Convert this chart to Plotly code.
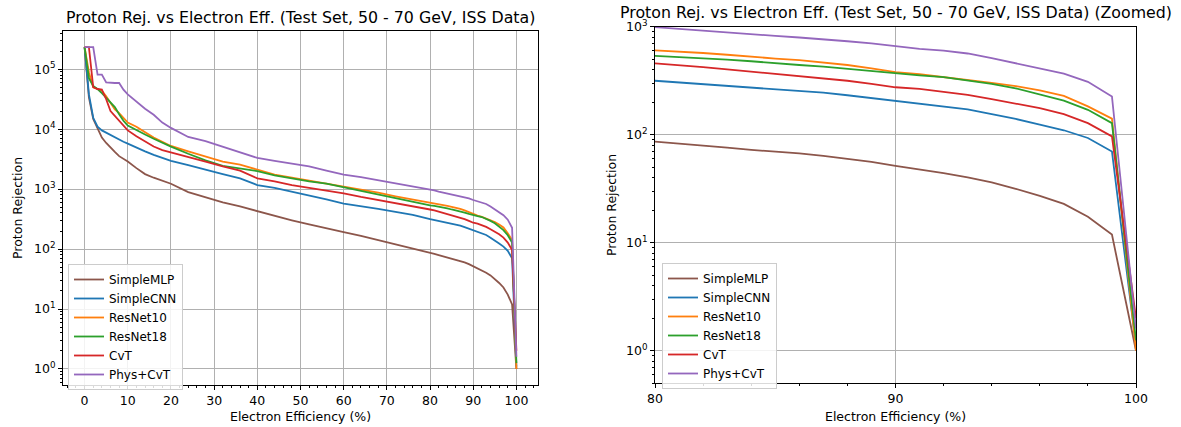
import math
import plotly.graph_objects as go

# ---------------- data ----------------
efficiency = [0, 1, 2, 3, 4, 5, 6, 7, 8, 9, 10,
              12, 14, 16, 18, 20,
              24, 28, 32, 36, 40, 44, 48, 52, 56, 60, 64, 68, 72, 76,
              80, 81, 82, 83, 84, 85, 86, 87, 88, 89, 90,
              91, 92, 93, 94, 95, 96, 97, 98, 99, 100]

simple_mlp = [234000, 33900, 14800, 10500, 7240, 5890, 4900, 4170, 3550, 3240, 2880,
              2240, 1780, 1550, 1380, 1230,
              891, 724, 603, 513, 427, 363, 302, 257, 219, 191, 166, 141, 123, 102,
              86.7, 83.2, 79.4, 75.9, 72.4, 70.0, 67.2, 63.8, 60.0, 56.0, 51.6,
              47.9, 44.2, 40.3, 36.3, 31.6, 27.2, 22.9, 17.4, 11.9, 1.0]

simple_cnn = [234000, 38000, 15500, 11000, 9550, 8710, 7940, 7240, 6760, 6170, 5750,
              4900, 4270, 3720, 3310, 2950,
              2510, 2140, 1780, 1510, 1170, 1050, 912, 794, 676, 575, 525, 468, 417, 372,
              316, 305, 295, 285, 275, 266, 257, 245, 232, 219, 207,
              195, 184, 172, 155, 140, 124, 110, 93.3, 70.0, 1.1]

resnet10 = [234000, 89100, 50100, 46800, 43700, 35500, 27500, 21400, 18600, 15800, 12900,
            11000, 8910, 7240, 6170, 5250,
            4270, 3470, 2880, 2570, 2090, 1740, 1550, 1380, 1260, 1120, 1000, 871, 759, 676,
            603, 589, 571, 550, 525, 507, 490, 468, 442, 412, 380,
            363, 343, 324, 302, 282, 257, 229, 183, 141, 1.0]

resnet18 = [234000, 70800, 52500, 46800, 39800, 33100, 28200, 23400, 17800, 13800, 11500,
            9550, 8130, 6920, 5890, 5130,
            3890, 3020, 2450, 2240, 2000, 1700, 1510, 1350, 1230, 1070, 933, 794, 692, 603,
            537, 525, 513, 495, 479, 457, 442, 427, 407, 387, 367,
            355, 342, 320, 295, 269, 237, 207, 170, 128, 1.25]

cvt = [234000, 234000, 50100, 46800, 45700, 31600, 20000, 16600, 13800, 11200, 9550,
       7590, 6170, 5130, 4470, 4070,
       3470, 2880, 2400, 2040, 1510, 1350, 1170, 1050, 955, 851, 741, 661, 575, 513,
       457, 442, 422, 403, 385, 367, 351, 331, 316, 295, 275,
       266, 251, 234, 214, 195, 176, 155, 128, 96.6, 2.0]

phys_cvt = [234000, 234000, 234000, 81300, 81300, 60300, 58900, 58900, 58900, 45700, 38000,
            28800, 21900, 17400, 12900, 10500,
            7410, 6310, 5130, 4070, 3310, 2950, 2690, 2400, 2040, 1740, 1580, 1410, 1230, 1120,
            993, 955, 912, 881, 851, 822, 794, 767, 733, 700, 658,
            624, 600, 565, 513, 457, 408, 367, 309, 226, 1.6]

model_names = ["SimpleMLP", "SimpleCNN", "ResNet10", "ResNet18", "CvT", "Phys+CvT"]
model_colors = ["#8c564b", "#1f77b4", "#ff7f0e", "#2ca02c", "#d62728", "#9467bd"]
model_values = [simple_mlp, simple_cnn, resnet10, resnet18, cvt, phys_cvt]

left_xticks = [0, 10, 20, 30, 40, 50, 60, 70, 80, 90, 100]
right_xticks = [80, 90, 100]
left_ytick_exps = [0, 1, 2, 3, 4, 5]
right_ytick_exps = [0, 1, 2, 3]

title_left = "Proton Rej. vs Electron Eff. (Test Set, 50 - 70 GeV, ISS Data)"
title_right = "Proton Rej. vs Electron Eff. (Test Set, 50 - 70 GeV, ISS Data) (Zoomed)"
xlabel = "Electron Efficiency (%)"
ylabel = "Proton Rejection"

# ---------------- figure ----------------
W, H = 1181, 427
FONT = "DejaVu Sans"
fig = go.Figure()

for name, color, vals in zip(model_names, model_colors, model_values):
    fig.add_trace(go.Scatter(x=efficiency, y=vals, mode="lines", name=name,
                             line=dict(color=color, width=1.8),
                             xaxis="x", yaxis="y", legend="legend"))
for name, color, vals in zip(model_names, model_colors, model_values):
    fig.add_trace(go.Scatter(x=efficiency, y=vals, mode="lines", name=name,
                             line=dict(color=color, width=1.8),
                             xaxis="x2", yaxis="y2", legend="legend2"))


def minor_log_vals(e0, e1):
    out = []
    for e in range(e0, e1 + 1):
        for m in range(2, 10):
            out.append(m * 10 ** e)
    return out


tickfont = dict(family=FONT, size=12.5, color="black")
common_axis = dict(showline=True, mirror=True, linecolor="black", linewidth=1,
                   ticks="outside", ticklen=4, tickwidth=1, tickcolor="black",
                   showgrid=True, gridcolor="#b0b0b0", gridwidth=1,
                   zeroline=False, tickfont=tickfont)


def px_x(p):
    return p / W


def px_y(p):
    return (H - p) / H


legend_common = dict(xanchor="left", yanchor="top",
                     bgcolor="rgba(255,255,255,0.85)", bordercolor="#cccccc", borderwidth=1,
                     font=dict(family=FONT, size=12, color="black"), tracegroupgap=0,
                     itemwidth=30)

fig.update_layout(
    width=W, height=H, margin=dict(l=0, r=0, t=0, b=0),
    paper_bgcolor="white", plot_bgcolor="white", template="none",
    font=dict(family=FONT, color="black"),
    xaxis=dict(domain=[px_x(63), px_x(538)], range=[-5, 105], anchor="y",
               tickmode="array", tickvals=left_xticks,
               minor=dict(ticks="outside", ticklen=2, tickwidth=1, tickcolor="black",
                          dtick=2, tick0=0, showgrid=False),
               **common_axis),
    yaxis=dict(domain=[px_y(385), px_y(31)], type="log", range=[-0.268, 5.638], anchor="x",
               tickmode="array", tickvals=[10 ** e for e in left_ytick_exps],
               ticktext=["10<sup>%d</sup>" % e for e in left_ytick_exps],
               minor=dict(ticks="outside", ticklen=2, tickwidth=1, tickcolor="black",
                          tickmode="array", tickvals=minor_log_vals(-1, 5), showgrid=False),
               **common_axis),
    xaxis2=dict(domain=[px_x(655), px_x(1136)], range=[80, 100], anchor="y2",
                tickmode="array", tickvals=right_xticks,
                minor=dict(ticks="outside", ticklen=2, tickwidth=1, tickcolor="black",
                           dtick=2, tick0=80, showgrid=False),
                **common_axis),
    yaxis2=dict(domain=[px_y(383.3), px_y(26.7)], type="log", range=[math.log10(0.5), 3],
                anchor="x2",
                tickmode="array", tickvals=[10 ** e for e in right_ytick_exps],
                ticktext=["10<sup>%d</sup>" % e for e in right_ytick_exps],
                minor=dict(ticks="outside", ticklen=2, tickwidth=1, tickcolor="black",
                           tickmode="array", tickvals=minor_log_vals(-1, 2), showgrid=False),
                **common_axis),
    legend=dict(x=px_x(68), y=px_y(264), **legend_common),
    legend2=dict(x=px_x(662), y=px_y(263), **legend_common),
)

ann_font_title = dict(family=FONT, size=15.8, color="black")
ann_font_label = dict(family=FONT, size=12.5, color="black")
annotations = [
    dict(text=title_left, x=px_x(300.5), y=px_y(17), font=ann_font_title),
    dict(text=title_right, x=px_x(896), y=px_y(12), font=ann_font_title),
    dict(text=xlabel, x=px_x(300.5), y=px_y(416), font=ann_font_label),
    dict(text=xlabel, x=px_x(895.5), y=px_y(416), font=ann_font_label),
    dict(text=ylabel, x=px_x(17), y=px_y(208), font=ann_font_label, textangle=-90),
    dict(text=ylabel, x=px_x(611), y=px_y(205), font=ann_font_label, textangle=-90),
]
for a in annotations:
    fig.add_annotation(xref="paper", yref="paper", showarrow=False,
                       xanchor="center", yanchor="middle", **a)

fig.write_html("out.html")
